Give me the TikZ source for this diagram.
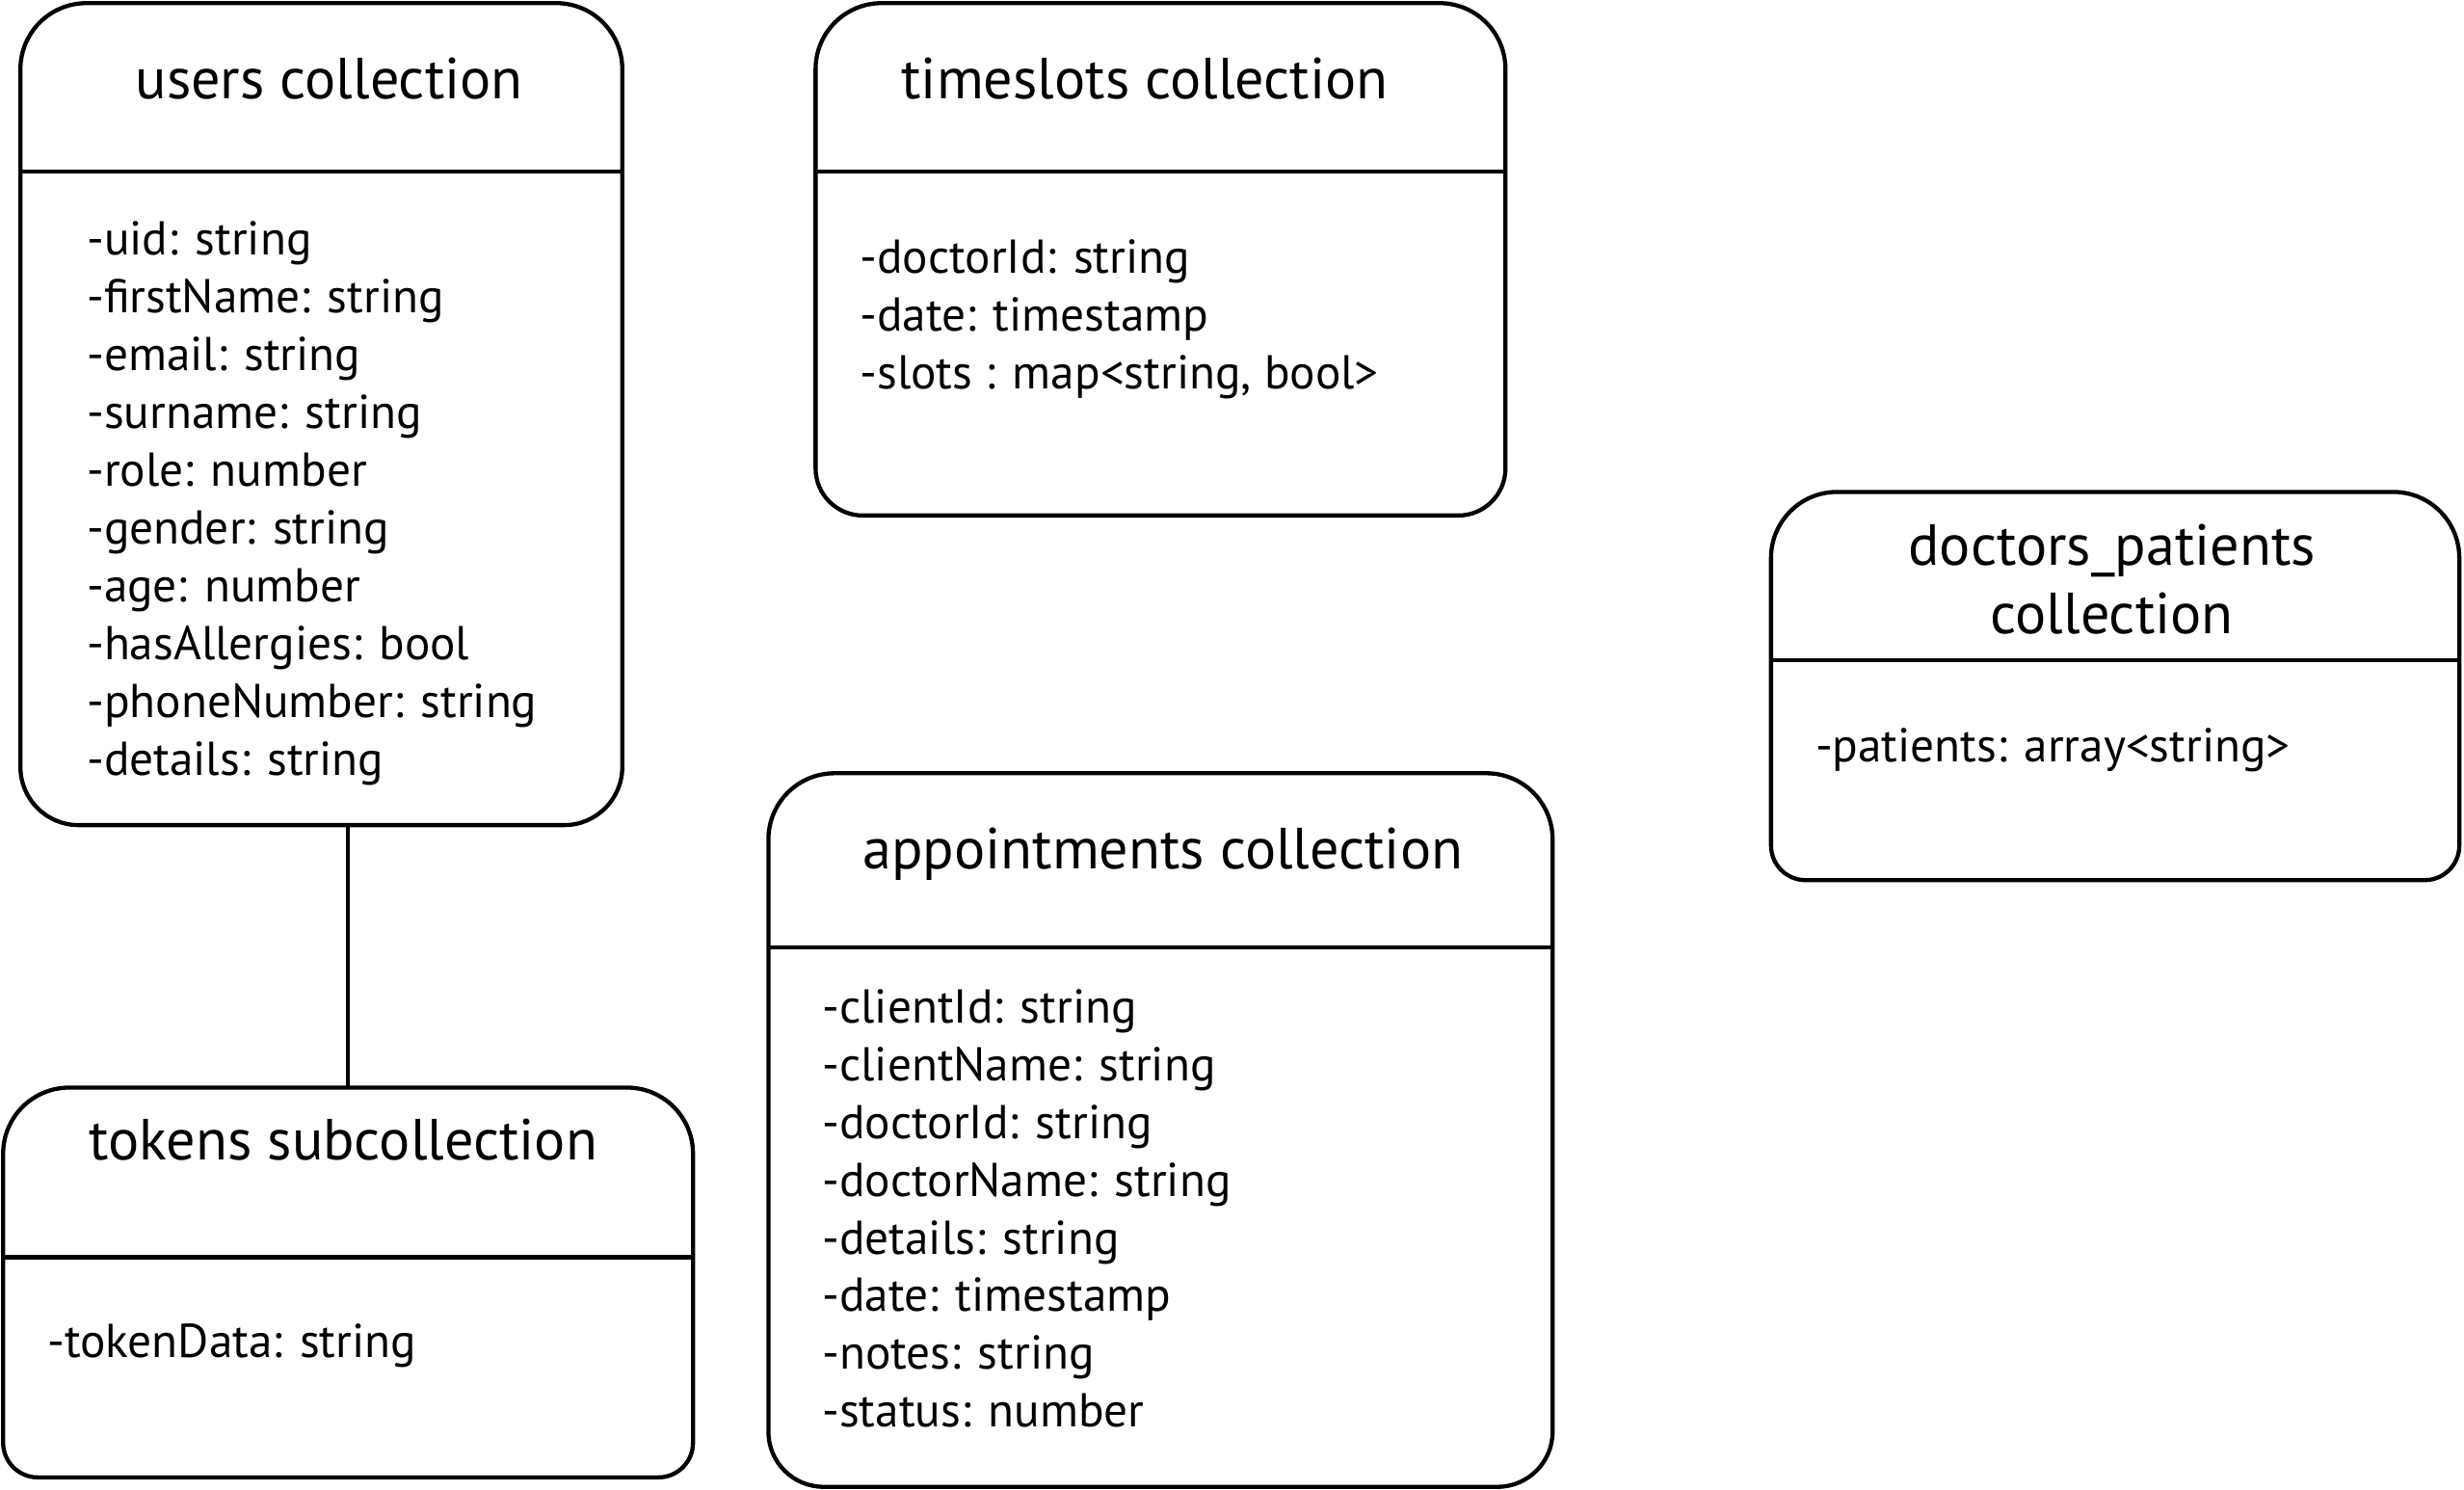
\documentclass[tikz,border=0pt]{standalone}
\usepackage{fontspec}
\setmainfont{PT Sans}
\usetikzlibrary{positioning}

\tikzset{
  frame/.style={draw=black,line width=1.5pt},
  coll/.style={rectangle,draw=none,inner sep=0pt,outer sep=0pt},
  title/.style={anchor=base,inner sep=0pt,font=\fontsize{21}{25}\selectfont},
  attr/.style={anchor=base west,inner sep=0pt,font=\fontsize{17.2}{21}\selectfont}
}
% outline of a collection box: top and bottom corner radii
\newcommand{\collframe}[3]{%
  \draw[frame] (#1.north) [rounded corners=#2] -| (#1.east) [rounded corners=#3] |- (#1.south)
    -| (#1.west) [rounded corners=#2] |- (#1.north);}

\begin{document}
\begin{tikzpicture}
  \useasboundingbox (0,0) rectangle (31.36,18.96);
  % boxes
  \node[coll,minimum width=7.66cm,minimum height=10.46cm] (users) at (4.09,13.69) {};
  \node[coll,minimum width=8.78cm,minimum height=6.52cm] (slots) at (14.77,15.66) {};
  \node[coll,minimum width=8.76cm,minimum height=4.94cm] (docpat) at (26.92,10.23) {};
  \node[coll,minimum width=9.98cm,minimum height=9.08cm] (appts) at (14.77,4.58) {};
  \node[coll,minimum width=8.78cm,minimum height=4.96cm] (tokens) at (4.43,2.64) {};
  \collframe{users}{0.84cm}{0.74cm}
  \collframe{slots}{0.84cm}{0.6cm}
  \collframe{docpat}{0.84cm}{0.44cm}
  \collframe{appts}{0.84cm}{0.7cm}
  \collframe{tokens}{0.84cm}{0.44cm}
  % dividers
  \draw[frame] (users.west |- 0,16.78) -- (users.east |- 0,16.78);
  \draw[frame] (slots.west |- 0,16.78) -- (slots.east |- 0,16.78);
  \draw[frame] (docpat.west |- 0,10.56) -- (docpat.east |- 0,10.56);
  \draw[frame] (appts.west |- 0,6.90) -- (appts.east |- 0,6.90);
  \draw[frame] (tokens.west |- 0,2.96) -- (tokens.east |- 0,2.96);
  % titles
  \node[title] (usersT) at (4.19,17.70) {users collection};
  \node[title] (slotsT) at (14.57,17.70) {timeslots collection};
  \node[title,anchor=center,align=center] (docpatT) at (26.88,11.59) {doctors\_patients\\collection};
  \node[title] (apptsT) at (14.80,7.90) {appointments collection};
  \node[title] (tokensT) at (4.37,4.20) {tokens subcollection};
  % attributes
  \foreach \t [count=\i from 0] in {-uid: string,-firstName: string,-email: string,-surname: string,-role: number,-gender: string,-age: number,-hasAllergies: bool,-phoneNumber: string,-details: string}
    \node[attr] (usersA\i) at (1.10,15.72-0.736*\i) {\t};
  \foreach \t [count=\i from 0] in {-doctorId: string,-date: timestamp,{-slots : map<string, bool>}}
    \node[attr] (slotsA\i) at (10.94,15.48-0.736*\i) {\t};
  \node[attr] (docpatA0) at (23.10,9.26) {-patients: array<string>};
  \foreach \t [count=\i from 0] in {-clientId: string,-clientName: string,-doctorId: string,-doctorName: string,-details: string,-date: timestamp,-notes: string,-status: number}
    \node[attr] (apptsA\i) at (10.46,5.94-0.734*\i) {\t};
  \node[attr] (tokensA0) at (0.60,1.68) {-tokenData: string};
  % link users -> tokens
  \draw[frame] (tokens.north) -- (tokens.north |- users.south);
\end{tikzpicture}
\end{document}
